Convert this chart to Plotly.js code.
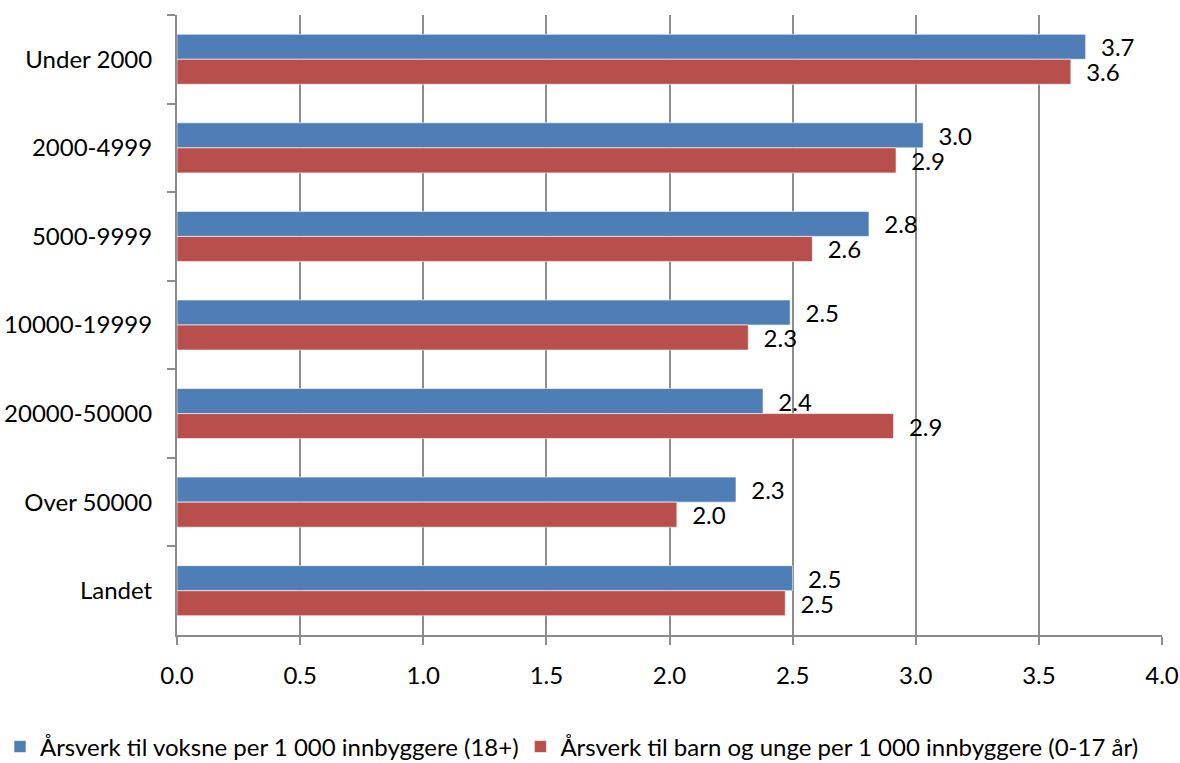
<!DOCTYPE html>
<html>
<head>
<meta charset="utf-8">
<script src="https://cdn.plot.ly/plotly-3.0.1.min.js"></script>
<style>html,body{margin:0;padding:0;background:#fff;}#chart{width:1180px;height:763px;}</style>
</head>
<body>
<div id="chart"></div>
<script>
const categories = ["Under 2000", "2000-4999", "5000-9999", "10000-19999", "20000-50000", "Over 50000", "Landet"];
const seriesNames = ["Årsverk til voksne per 1 000 innbyggere (18+)", "Årsverk til barn og unge per 1 000 innbyggere (0-17 år)"];
const adults = [3.69, 3.03, 2.81, 2.49, 2.38, 2.27, 2.50];
const children = [3.63, 2.92, 2.58, 2.32, 2.91, 2.03, 2.47];
const xTicks = [0, 0.5, 1, 1.5, 2, 2.5, 3, 3.5, 4];
const xTickLabels = ["0.0", "0.5", "1.0", "1.5", "2.0", "2.5", "3.0", "3.5", "4.0"];

const FONT = "Lato, 'Open Sans', sans-serif";
const pad = "\u00a0\u00a0";

function barTrace(name, values, color, legendId) {
  return {
    type: "bar", orientation: "h", name: name, legend: legendId,
    x: values, y: categories,
    marker: {color: color, line: {color: "rgba(255,255,255,0.6)", width: 1}},
    text: values.map(v => pad + v.toFixed(1)),
    textposition: "outside",
    textfont: {family: FONT, size: 24, color: "#000"},
    constraintext: "none",
    cliponaxis: false,
    hoverinfo: "x+y"
  };
}

const data = [
  barTrace(seriesNames[0], adults, "#4F7EB6", "legend"),
  barTrace(seriesNames[1], children, "#B94F4D", "legend2")
];

const legendBase = {
  orientation: "h", xref: "container", yref: "container",
  y: 0.021, xanchor: "left", yanchor: "middle",
  font: {family: FONT, size: 24, color: "#000"},
  bgcolor: "rgba(0,0,0,0)", itemclick: false
};

const layout = {
  width: 1180, height: 763,
  margin: {l: 177, r: 18, t: 15, b: 128},
  paper_bgcolor: "#fff", plot_bgcolor: "#fff",
  font: {family: FONT, size: 24, color: "#000"},
  barmode: "group",
  bargap: 0.435, bargroupgap: 0,
  showlegend: true,
  legend: Object.assign({}, legendBase, {x: -0.007}),
  legend2: Object.assign({}, legendBase, {x: 0.441}),
  xaxis: {
    range: [0, 4], tickvals: xTicks, ticktext: xTickLabels,
    showgrid: true, gridcolor: "#8c8c8c", gridwidth: 2,
    showline: true, linecolor: "#8c8c8c", linewidth: 2,
    ticks: "outside", ticklen: 8, tickwidth: 2, tickcolor: "#8c8c8c",
    ticklabelstandoff: 10, zeroline: false, fixedrange: true
  },
  yaxis: {
    type: "category", autorange: "reversed",
    showgrid: false, showline: true, linecolor: "#8c8c8c", linewidth: 2,
    ticks: "outside", tickson: "boundaries", ticklen: 8, tickwidth: 2, tickcolor: "#8c8c8c",
    ticklabelstandoff: 18, zeroline: false, fixedrange: true
  }
};

Plotly.newPlot("chart", data, layout, {displayModeBar: false, staticPlot: true});
</script>
</body>
</html>
